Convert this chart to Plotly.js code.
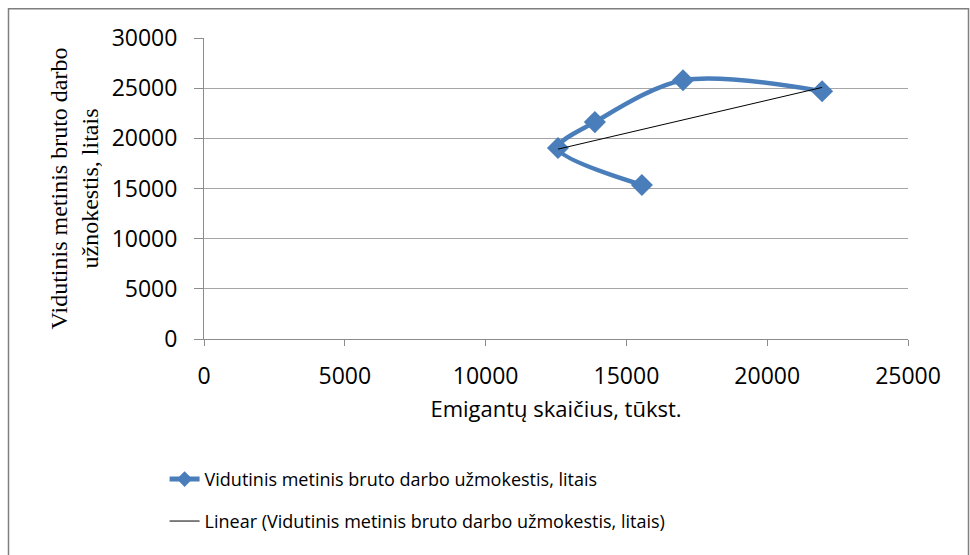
<!DOCTYPE html>
<html>
<head>
<meta charset="utf-8">
<script src="https://cdn.plot.ly/plotly-3.0.1.min.js"></script>
<style>html,body{margin:0;padding:0;background:#fff;}#chart{width:970px;height:555px;}</style>
</head>
<body>
<div id="chart"></div>
<script>
// Data
const emigrants = [15550, 12570, 13880, 17010, 21950];   // x: Emigantų skaičius, tūkst.
const wages     = [15350, 19030, 21620, 25790, 24700];   // y: Vidutinis metinis bruto darbo užmokestis, litais
const xTicks = [0, 5000, 10000, 15000, 20000, 25000];
const yTicks = [0, 5000, 10000, 15000, 20000, 25000, 30000];
const seriesName = "Vidutinis metinis bruto darbo užmokestis, litais";
const trendName = "Linear (Vidutinis metinis bruto darbo užmokestis, litais)";

// least-squares linear trend computed from the data
const n = emigrants.length;
const mx = emigrants.reduce((a,b)=>a+b,0)/n;
const my = wages.reduce((a,b)=>a+b,0)/n;
let sxy = 0, sxx = 0;
for (let i=0;i<n;i++){ sxy += (emigrants[i]-mx)*(wages[i]-my); sxx += (emigrants[i]-mx)**2; }
const slope = sxy/sxx, icpt = my - slope*mx;
const xMin = Math.min(...emigrants), xMax = Math.max(...emigrants);
const trendX = [xMin, xMax];
const trendY = trendX.map(v => icpt + slope*v);

const blue = "#4a7ebb";
const tickFont = {family: "Open Sans, sans-serif", size: 23, color: "#000"};

const traces = [
  {
    x: emigrants, y: wages, name: seriesName, type: "scatter", mode: "lines+markers",
    line: {color: blue, width: 4.5, shape: "spline", smoothing: 0.9},
    marker: {symbol: "diamond", size: 17, color: blue},
    legend: "legend", hoverinfo: "x+y"
  },
  {
    x: trendX, y: trendY, name: trendName, type: "scatter", mode: "lines",
    line: {color: "#000", width: 1},
    legend: "legend2", hoverinfo: "x+y"
  }
];

const legendFont = {family: "Open Sans, sans-serif", size: 18, color: "#000"};

const layout = {
  width: 970, height: 555,
  margin: {l: 204, r: 62, t: 38, b: 216},
  paper_bgcolor: "#fff", plot_bgcolor: "#fff",
  showlegend: true,
  xaxis: {
    range: [0, 25000], tickvals: xTicks, ticktext: xTicks.map(String),
    showgrid: false, zeroline: false,
    showline: true, linecolor: "#8c8c8c", linewidth: 1,
    ticks: "outside", ticklen: 6, tickcolor: "#8c8c8c",
    ticklabelstandoff: 10,
    tickfont: tickFont,
    title: {text: "Emigantų skaičius, tūkst.", font: {family: "Open Sans, sans-serif", size: 22, color: "#000"}, standoff: 12},
    fixedrange: true
  },
  yaxis: {
    range: [0, 30000], tickvals: yTicks, ticktext: yTicks.map(String),
    showgrid: true, gridcolor: "#a6a6a6", gridwidth: 1,
    zeroline: false,
    showline: true, linecolor: "#8c8c8c", linewidth: 1,
    ticks: "outside", ticklen: 9, tickcolor: "#8c8c8c",
    ticklabelstandoff: 12,
    tickfont: tickFont,
    title: {text: "Vidutinis metinis bruto darbo<br>užnokestis, litais", font: {family: "Liberation Serif, Times New Roman, serif", size: 24, color: "#000"}, standoff: 6},
    fixedrange: true
  },
  legend: {
    x: -0.056, y: -0.4665, xanchor: "left", yanchor: "middle",
    font: legendFont, bgcolor: "rgba(0,0,0,0)", itemsizing: "constant"
  },
  legend2: {
    x: -0.056, y: -0.6058, xanchor: "left", yanchor: "middle",
    font: legendFont, bgcolor: "rgba(0,0,0,0)"
  },
  shapes: [
    {type: "rect", xref: "paper", yref: "paper",
     x0: (8.5-204)/704, x1: (968.5-204)/704, y0: (339.3-565)/301.6, y1: (339.3-8.5)/301.6,
     line: {color: "#7f7f7f", width: 1.5}, fillcolor: "rgba(0,0,0,0)", layer: "below"}
  ]
};

Plotly.newPlot("chart", traces, layout, {displayModeBar: false, staticPlot: true});
</script>
</body>
</html>
